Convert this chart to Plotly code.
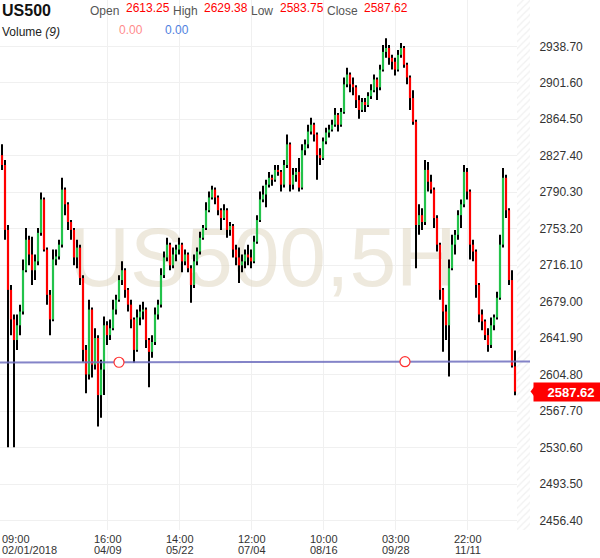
import plotly.graph_objects as go

# ---------------- data ----------------
symbol = "US500"
timeframe = "5H"

opens = [2828, 2818, 2752, 2691, 2661, 2640, 2655, 2669, 2711, 2742,
         2727, 2711, 2720, 2749, 2783, 2732, 2686, 2661, 2722, 2725,
         2737, 2793, 2778, 2760, 2752, 2724, 2734, 2703, 2630, 2605,
         2671, 2615, 2642, 2584, 2610, 2655, 2645, 2652, 2671, 2681,
         2701, 2711, 2691, 2676, 2661, 2630, 2663, 2669, 2671, 2640,
         2628, 2638, 2666, 2676, 2706, 2724, 2737, 2716, 2727, 2732,
         2737, 2720, 2727, 2713, 2696, 2720, 2730, 2744, 2754, 2772,
         2785, 2793, 2785, 2772, 2764, 2772, 2752, 2756, 2732, 2724,
         2716, 2720, 2727, 2724, 2720, 2740, 2762, 2783, 2788, 2798,
         2805, 2803, 2813, 2811, 2798, 2818, 2839, 2798, 2808, 2811,
         2795, 2833, 2839, 2852, 2859, 2849, 2828, 2825, 2842, 2851,
         2854, 2859, 2869, 2859, 2872, 2900, 2910, 2900, 2897, 2884,
         2874, 2882, 2879, 2888, 2894, 2905, 2897, 2915, 2933, 2937,
         2927, 2923, 2915, 2930, 2937, 2920, 2907, 2886, 2862, 2757,
         2767, 2760, 2813, 2801, 2793, 2764, 2737, 2691, 2669, 2655,
         2713, 2737, 2747, 2767, 2778, 2811, 2791, 2737, 2730, 2696,
         2666, 2659, 2645, 2635, 2655, 2663, 2683, 2737, 2805, 2772,
         2701, 2613.25]

highs = [2839, 2823, 2757, 2696, 2666, 2666, 2676, 2722, 2754, 2746,
         2745, 2727, 2754, 2790, 2785, 2734, 2691, 2732, 2732, 2742,
         2805, 2795, 2780, 2762, 2754, 2742, 2737, 2706, 2635, 2681,
         2673, 2652, 2645, 2620, 2664, 2659, 2661, 2681, 2686, 2706,
         2720, 2713, 2693, 2681, 2663, 2671, 2676, 2679, 2673, 2642,
         2645, 2673, 2681, 2713, 2730, 2744, 2739, 2734, 2737, 2744,
         2739, 2732, 2729, 2716, 2727, 2734, 2750, 2757, 2780, 2791,
         2797, 2795, 2787, 2774, 2778, 2774, 2760, 2758, 2737, 2734,
         2727, 2732, 2737, 2732, 2746, 2767, 2791, 2797, 2803, 2811,
         2808, 2818, 2818, 2813, 2823, 2849, 2841, 2815, 2815, 2825,
         2839, 2844, 2859, 2866, 2861, 2851, 2835, 2846, 2856, 2859,
         2864, 2876, 2871, 2876, 2907, 2917, 2912, 2907, 2899, 2889,
         2886, 2886, 2892, 2900, 2910, 2907, 2920, 2940, 2947, 2940,
         2930, 2927, 2935, 2942, 2939, 2922, 2909, 2894, 2864, 2778,
         2774, 2823, 2821, 2808, 2795, 2767, 2739, 2693, 2676, 2722,
         2747, 2752, 2772, 2783, 2818, 2815, 2793, 2742, 2732, 2698,
         2671, 2661, 2652, 2663, 2666, 2689, 2747, 2815, 2808, 2774,
         2711, 2629.38]

lows = [2813, 2742, 2531, 2645, 2531, 2630, 2645, 2666, 2709, 2716,
        2696, 2701, 2716, 2746, 2730, 2676, 2645, 2659, 2716, 2722,
        2734, 2767, 2752, 2742, 2716, 2713, 2696, 2618, 2586, 2600,
        2602, 2610, 2552, 2561, 2584, 2635, 2640, 2650, 2666, 2679,
        2696, 2683, 2669, 2652, 2617, 2628, 2655, 2661, 2632, 2592,
        2622, 2635, 2661, 2673, 2703, 2720, 2711, 2713, 2720, 2727,
        2709, 2716, 2709, 2678, 2693, 2716, 2727, 2742, 2752, 2770,
        2783, 2778, 2767, 2752, 2762, 2744, 2746, 2724, 2716, 2698,
        2709, 2713, 2716, 2713, 2718, 2738, 2760, 2780, 2775, 2795,
        2797, 2801, 2807, 2791, 2795, 2815, 2791, 2793, 2801, 2791,
        2793, 2828, 2835, 2849, 2842, 2803, 2818, 2823, 2839, 2846,
        2852, 2857, 2852, 2857, 2870, 2897, 2892, 2889, 2876, 2865,
        2872, 2872, 2877, 2885, 2892, 2884, 2894, 2913, 2927, 2920,
        2915, 2909, 2913, 2927, 2917, 2900, 2874, 2859, 2713, 2747,
        2752, 2757, 2791, 2789, 2754, 2730, 2681, 2628, 2640, 2603,
        2711, 2727, 2742, 2754, 2775, 2783, 2722, 2720, 2683, 2658,
        2650, 2640, 2628, 2632, 2650, 2661, 2681, 2734, 2764, 2696,
        2612, 2583.75]

closes = [2818, 2752, 2691, 2661, 2640, 2655, 2669, 2711, 2742, 2727,
          2711, 2720, 2749, 2783, 2732, 2686, 2661, 2722, 2725, 2737,
          2793, 2778, 2760, 2752, 2724, 2734, 2703, 2630, 2605, 2671,
          2615, 2642, 2584, 2610, 2655, 2645, 2652, 2671, 2681, 2701,
          2711, 2691, 2676, 2661, 2630, 2663, 2669, 2671, 2640, 2628,
          2638, 2666, 2676, 2706, 2724, 2737, 2716, 2727, 2732, 2737,
          2720, 2727, 2713, 2696, 2720, 2730, 2744, 2754, 2772, 2785,
          2793, 2785, 2772, 2764, 2772, 2752, 2756, 2732, 2724, 2716,
          2720, 2727, 2724, 2720, 2740, 2762, 2783, 2788, 2798, 2805,
          2803, 2813, 2811, 2798, 2818, 2839, 2798, 2808, 2811, 2795,
          2833, 2839, 2852, 2859, 2849, 2828, 2825, 2842, 2851, 2854,
          2859, 2869, 2859, 2872, 2900, 2910, 2900, 2897, 2884, 2874,
          2882, 2879, 2888, 2894, 2905, 2897, 2915, 2933, 2937, 2927,
          2923, 2915, 2930, 2937, 2920, 2907, 2886, 2862, 2757, 2767,
          2760, 2813, 2801, 2793, 2764, 2737, 2691, 2669, 2655, 2713,
          2737, 2747, 2767, 2778, 2811, 2791, 2737, 2730, 2696, 2666,
          2659, 2645, 2635, 2655, 2663, 2683, 2737, 2805, 2772, 2701,
          2614, 2587.62]

header_labels = ["Open", "High", "Low", "Close"]
header_values = ["2613.25", "2629.38", "2583.75", "2587.62"]
volume_values = ["0.00", "0.00"]

y_ticks = [2456.40, 2493.50, 2530.60, 2567.70, 2604.80, 2641.90, 2679.00,
           2716.10, 2753.20, 2790.30, 2827.40, 2864.50, 2901.60, 2938.70]

x_tick_pos = [35.33, 59.33, 83.33, 107.33, 131.33, 155.33]
x_tick_time = ["16:00", "14:00", "12:00", "10:00", "03:00", "22:00"]
x_tick_date = ["04/09", "05/22", "07/04", "08/16", "09/28", "11/11"]
first_tick_time = "09:00"
first_tick_date = "02/01/2018"

trend_x = [39.0, 134.33]
trend_y = [2617.4, 2618.0]
last_price = 2587.62

# ---------------- styling / geometry ----------------
FONT = "Arial, Liberation Sans, sans-serif"
W, H = 600, 558
ML, MR, MT, MB = 0, 70, 0, 28
PW, PH = W - ML - MR, H - MT - MB
X_RANGE = [-0.667, 176.0]
Y_RANGE = [2446.84, 2985.78]
GREEN = "#22c24a"
RED = "#ff0000"


def px_x(px):
    return px / PW


def px_y(py):
    return 1 - py / PH


n = len(closes)
idx = list(range(n))

wick_x, wick_y = [], []
up_x, up_y, dn_x, dn_y = [], [], [], []
for i in idx:
    wick_x += [i, i, None]
    wick_y += [lows[i], highs[i], None]
    if closes[i] >= opens[i]:
        up_x += [i, i, None]
        up_y += [opens[i], closes[i], None]
    else:
        dn_x += [i, i, None]
        dn_y += [opens[i], closes[i], None]

fig = go.Figure()

# hatched "future" zone at the right edge of the plot
hx0 = (517 / PW) * (X_RANGE[1] - X_RANGE[0]) + X_RANGE[0]
hx1 = X_RANGE[1]
fig.add_trace(go.Bar(
    x=[(hx0 + hx1) / 2], y=[Y_RANGE[1] - Y_RANGE[0]], base=[Y_RANGE[0]],
    width=[hx1 - hx0],
    marker=dict(color="white", line_width=0,
                pattern=dict(shape="/", fgcolor="#e2e2e2", bgcolor="white",
                             size=5, solidity=0.25)),
    hoverinfo="skip", showlegend=False))

# watermark
fig.add_trace(go.Scatter(
    x=[87.0], y=[2716],
    mode="text", text=[f"{symbol},{timeframe}"],
    textfont=dict(family=FONT, size=84, color="rgba(222,211,188,0.5)"),
    hoverinfo="skip", showlegend=False, cliponaxis=False))

# candles
fig.add_trace(go.Scatter(x=wick_x, y=wick_y, mode="lines",
                         line=dict(color="#000000", width=2),
                         hoverinfo="skip", showlegend=False))
fig.add_trace(go.Scatter(x=up_x, y=up_y, mode="lines",
                         line=dict(color=GREEN, width=2.2),
                         hoverinfo="skip", showlegend=False))
fig.add_trace(go.Scatter(x=dn_x, y=dn_y, mode="lines",
                         line=dict(color=RED, width=2.2),
                         hoverinfo="skip", showlegend=False))

# trend line through the two anchors, extended to the plot edges
slope = (trend_y[1] - trend_y[0]) / (trend_x[1] - trend_x[0])
tl_x = [X_RANGE[0], X_RANGE[1]]
tl_y = [trend_y[0] + slope * (x - trend_x[0]) for x in tl_x]
fig.add_trace(go.Scatter(x=tl_x, y=tl_y, mode="lines",
                         line=dict(color="rgba(110,110,190,0.85)", width=2),
                         hoverinfo="skip", showlegend=False))
fig.add_trace(go.Scatter(x=trend_x, y=trend_y, mode="markers",
                         marker=dict(symbol="circle", size=10, color="white",
                                     line=dict(color="#ff3030", width=1.2)),
                         hoverinfo="skip", showlegend=False))

annotations = []
# header line 1
annotations.append(dict(text=f"<b>{symbol}</b>", x=px_x(0), y=px_y(10.5),
                        font=dict(family=FONT, size=16, color="#111")))
label_px = [88, 171, 249, 325]
value_px = [124, 202, 278, 362]
for lab, val, lx, vx in zip(header_labels, header_values, label_px, value_px):
    annotations.append(dict(text=lab, x=px_x(lx), y=px_y(10.5),
                            font=dict(family=FONT, size=12, color="#555")))
    annotations.append(dict(text=val, x=px_x(vx), y=px_y(7.5),
                            font=dict(family=FONT, size=12, color=RED)))
# header line 2
annotations.append(dict(text="Volume <i>(9)</i>", x=px_x(0), y=px_y(31.5),
                        font=dict(family=FONT, size=12, color="#222")))
annotations.append(dict(text=volume_values[0], x=px_x(117), y=px_y(29.5),
                        font=dict(family=FONT, size=12, color="#ff8c8c")))
annotations.append(dict(text=volume_values[1], x=px_x(163), y=px_y(29.5),
                        font=dict(family=FONT, size=12, color="#4f7fe0")))
for a in annotations:
    a.update(xref="paper", yref="paper", xanchor="left", yanchor="middle",
             showarrow=False)

# x tick labels (two lines, tight spacing)
xl = []
for pos, t, d in zip(x_tick_pos, x_tick_time, x_tick_date):
    xl.append(dict(text=t, x=pos, y=px_y(538.8), xref="x", yref="paper",
                   xanchor="center"))
    xl.append(dict(text=d, x=pos, y=px_y(549.7), xref="x", yref="paper",
                   xanchor="center"))
xl.append(dict(text=first_tick_time, x=0, y=px_y(538.8), xref="paper",
               yref="paper", xanchor="left"))
xl.append(dict(text=first_tick_date, x=0, y=px_y(549.7), xref="paper",
               yref="paper", xanchor="left"))
for a in xl:
    a.update(yanchor="middle", showarrow=False,
             font=dict(family=FONT, size=11, color="#333"))
annotations += xl

# last price tag
annotations.append(dict(text=f"<b>{last_price:.2f}</b>", x=px_x(533),
                        y=last_price, xref="paper", yref="y", xanchor="left",
                        yanchor="middle", showarrow=False, bgcolor=RED,
                        width=70, height=14, borderpad=2, align="center",
                        font=dict(family=FONT, size=13, color="white")))

ppu = PH / (Y_RANGE[1] - Y_RANGE[0])
tri = (f"M {px_x(530.5)},{last_price} "
       f"L {px_x(534)},{last_price + 4.5 / ppu} "
       f"L {px_x(534)},{last_price - 4.5 / ppu} Z")
shapes = [dict(type="path", path=tri, xref="paper", yref="y",
               fillcolor=RED, line=dict(width=0))]

fig.update_layout(
    width=W, height=H,
    margin=dict(l=ML, r=MR, t=MT, b=MB, pad=0),
    paper_bgcolor="white", plot_bgcolor="white",
    showlegend=False, bargap=0, hovermode=False,
    font=dict(family=FONT, size=12, color="#333"),
    annotations=annotations, shapes=shapes,
    xaxis=dict(range=X_RANGE, tickvals=x_tick_pos, showticklabels=False,
               showgrid=True, gridcolor="#f0f0f0", gridwidth=1,
               zeroline=False, showline=False, ticks=""),
    yaxis=dict(range=Y_RANGE, side="right", tickvals=y_ticks,
               ticktext=[f"{v:.2f}" for v in y_ticks],
               tickfont=dict(family=FONT, size=12, color="#333"),
               showgrid=True, gridcolor="#f0f0f0", gridwidth=1,
               zeroline=False, showline=False,
               ticks="outside", ticklen=6, tickcolor="rgba(0,0,0,0)"),
)

fig.write_html(
    "out.html",
    config={"displayModeBar": False, "staticPlot": True},
    post_script="document.body.style.margin='0px';"
                "document.body.style.overflow='hidden';",
)
